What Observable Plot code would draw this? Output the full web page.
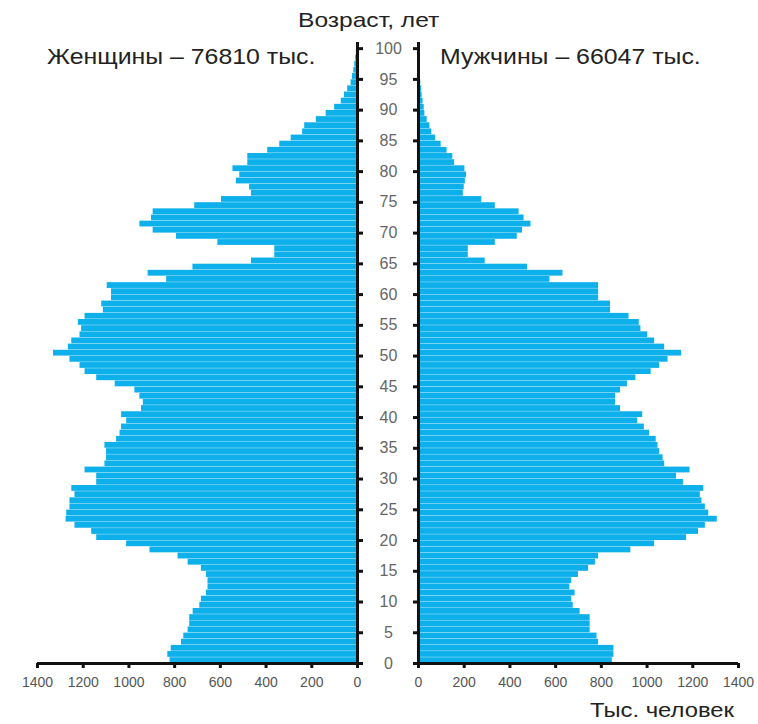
<!DOCTYPE html>
<html><head><meta charset="utf-8">
<script src="https://cdn.jsdelivr.net/npm/d3@7"></script>
<script src="https://cdn.jsdelivr.net/npm/@observablehq/plot@0.6"></script>
<style>
body{margin:0;background:#fff;}
#wrap{position:relative;width:758px;height:724px;font-family:"Liberation Sans",Arial,sans-serif;overflow:hidden;}
#wrap svg{position:absolute;left:0;top:0;}
.t{position:absolute;white-space:nowrap;color:#222;line-height:1;transform-origin:0 0;}
</style></head><body>
<div id="wrap"></div>
<script>
const ages = d3.range(0, 101);
const women = [820,830,815,770,760,741,734,734,719,690,
  683,661,654,654,661,683,741,785,908,1010,
  1141,1163,1236,1275,1272,1258,1258,1236,1250,1141,
  1141,1192,1105,1098,1098,1105,1054,1039,1032,1010,
  1032,945,937,952,974,1060,1141,1192,1214,1258,
  1330,1265,1250,1214,1207,1221,1192,1112,1119,1076,
  1076,1095,835,916,720,464,362,362,611,792,
  894,952,901,894,712,595,464,472,530,515,
  545,480,480,393,340,290,240,231,180,137,
  100,71,57,43,28,22,16,12,8,5,3];
const men = [848,855,855,788,781,751,751,751,707,677,
  670,685,662,670,700,744,774,788,929,1033,
  1173,1225,1255,1307,1270,1255,1240,1233,1248,1159,
  1129,1188,1077,1070,1055,1048,1040,1011,988,959,
  981,884,862,862,884,914,951,1018,1055,1092,
  1151,1077,1033,1003,973,966,921,840,840,788,
  788,788,575,632,477,292,218,218,336,432,
  455,492,462,440,336,277,196,200,205,210,
  203,158,150,125,99,75,58,50,38,28,
  25,20,16,13,10,8,6,4,3,2,1];
const xTicks = [0,200,400,600,800,1000,1200,1400];
const ageTicks = d3.range(0, 101, 5);
const ageTitle = "Возраст, лет";
const womenTitle = "Женщины – 76810 тыс.";
const menTitle = "Мужчины – 66047 тыс.";
const unitTitle = "Тыс. человек";

const womenData = ages.map((a, i) => ({age: a, v: women[i]}));
const menData = ages.map((a, i) => ({age: a, v: men[i]}));

const W = 758, H = 724;
const BAR = "#0db0ea";
const font = '"Liberation Sans", Arial, sans-serif';
const fmt = d => String(d);
const common = {
  width: W, height: H, marginTop: 42, marginBottom: 61,
  y: {domain: [0, 101]},
  style: {background: "transparent", fontFamily: font, overflow: "visible"}
};

const left = Plot.plot({
  ...common,
  marginLeft: 37, marginRight: 401,
  x: {domain: [0, 1400], reverse: true},
  marks: [
    Plot.rectX(womenData, {x: "v", y1: "age", y2: d => d.age + 1, fill: BAR, insetTop: 0.35}),
    Plot.ruleY([0], {strokeWidth: 3, stroke: "#111"}),
    Plot.ruleX([0], {strokeWidth: 3, stroke: "#111"}),
    Plot.axisX({ticks: xTicks, tickFormat: fmt, tickSize: 5, tickPadding: 9, strokeWidth: 3, stroke: "#111", fill: "#555", fontSize: 14, label: null}),
    Plot.axisY({anchor: "right", ticks: ageTicks, tickFormat: fmt, tickSize: 5, tickPadding: 26, textAnchor: "middle", strokeWidth: 3, stroke: "#111", fill: "#666", fontSize: 16, label: null})
  ]
});

const right = Plot.plot({
  ...common,
  marginLeft: 418, marginRight: 20,
  x: {domain: [0, 1400]},
  marks: [
    Plot.rectX(menData, {x: "v", y1: "age", y2: d => d.age + 1, fill: BAR, insetTop: 0.35}),
    Plot.ruleY([0], {strokeWidth: 3, stroke: "#111"}),
    Plot.ruleX([0], {strokeWidth: 3, stroke: "#111"}),
    Plot.axisX({ticks: xTicks, tickFormat: fmt, tickSize: 5, tickPadding: 9, strokeWidth: 3, stroke: "#111", fill: "#555", fontSize: 14, label: null}),
    Plot.axisY({anchor: "left", ticks: ageTicks, tickSize: 5, tickFormat: () => "", strokeWidth: 3, stroke: "#111", label: null})
  ]
});

const wrap = document.getElementById("wrap");
wrap.appendChild(left);
wrap.appendChild(right);

function addText(txt, css) {
  const d = document.createElement("div");
  d.className = "t";
  d.textContent = txt;
  Object.assign(d.style, css);
  wrap.appendChild(d);
  return d;
}
addText(ageTitle, {left: "298px", top: "9px", fontSize: "21px", transform: "scaleX(1.17)"});
addText(womenTitle, {left: "47px", top: "46px", fontSize: "22px", transform: "scaleX(1.13)"});
addText(menTitle, {left: "440px", top: "46px", fontSize: "22px", transform: "scaleX(1.13)"});
addText(unitTitle, {left: "590px", top: "700px", fontSize: "20px", transform: "scaleX(1.19)"});
</script>
</body></html>
